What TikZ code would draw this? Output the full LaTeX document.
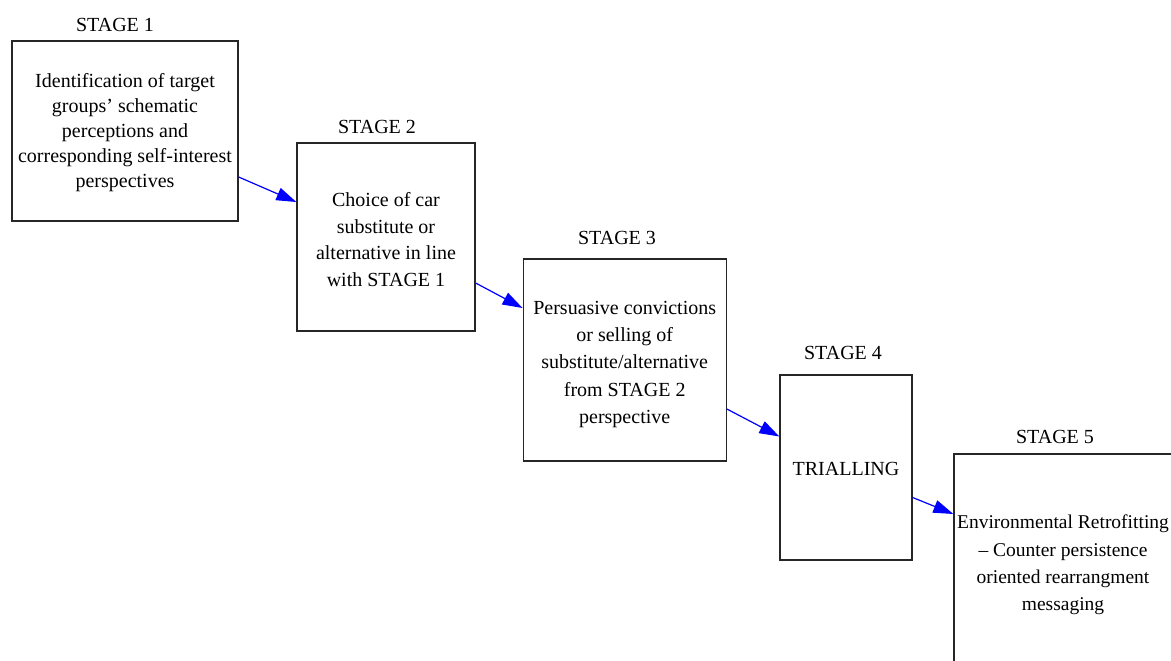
\documentclass[tikz,border=0pt]{standalone}
\usepackage{fontspec}
\setmainfont{Liberation Serif}
\usetikzlibrary{arrows.meta}
\begin{document}
\begin{tikzpicture}[x=1pt,y=-1pt,
  stagebox/.style={draw=black!85, line width=1.3pt, inner sep=0pt},
  stagetext/.style={inner sep=0pt, align=center},
  stagelabel/.style={inner sep=0pt, font=\fontsize{20}{25}\selectfont},
  flow/.style={draw=blue, line width=1.2pt,
    -{Triangle[length=20pt,width=13pt]}, fill=blue}]
\useasboundingbox (0,0) rectangle (1171,661);
\clip (0,0) rectangle (1171,661);

% stage boxes
\node[stagebox, minimum width=226pt, minimum height=180pt] (b1) at (125,131) {};
\node[stagebox, minimum width=178pt, minimum height=188pt] (b2) at (386,237) {};
\node[stagebox, minimum width=203pt, minimum height=202pt] (b3) at (624.7,360) {};
\node[stagebox, minimum width=132pt, minimum height=185pt] (b4) at (846,467.5) {};
\node[stagebox, minimum width=222pt, minimum height=226pt] (b5) at (1065,567) {};

% box contents
\node[stagetext, font=\fontsize{20}{25}\selectfont] (x1) at ([yshift=-2pt]b1.center)
  {Identification of target\\groups’ schematic\\perceptions and\\corresponding self-interest\\perspectives};
\node[stagetext, font=\fontsize{20}{26.7}\selectfont] (x2) at ([yshift=-2.5pt]b2.center)
  {Choice of car\\substitute or\\alternative in line\\with STAGE 1};
\node[stagetext, font=\fontsize{20}{27.2}\selectfont] (x3) at ([yshift=-4.5pt]b3.center)
  {Persuasive convictions\\or selling of\\substitute/alternative\\from STAGE 2\\perspective};
\node[stagetext, font=\fontsize{20}{25}\selectfont] (x4) at ([yshift=-1pt]b4.center)
  {TRIALLING};
\node[stagetext, font=\fontsize{19.5}{27.2}\selectfont] (x5) at ([xshift=-2pt,yshift=2pt]b5.center)
  {Environmental Retrofitting\\– Counter persistence\\oriented rearrangment\\messaging};

% stage titles
\node[stagelabel] (t1) at (115,25) {STAGE 1};
\node[stagelabel] (t2) at (377,127) {STAGE 2};
\node[stagelabel] (t3) at (617,238) {STAGE 3};
\node[stagelabel] (t4) at (843,353) {STAGE 4};
\node[stagelabel] (t5) at (1055,437) {STAGE 5};

% connectors
\draw[flow] ([yshift=-46pt]b1.east) -- ([yshift=35pt]b2.west);
\draw[flow] ([yshift=-46pt]b2.east) -- ([yshift=52pt]b3.west);
\draw[flow] ([yshift=-49pt]b3.east) -- ([yshift=31pt]b4.west);
\draw[flow] ([yshift=-30pt]b4.east) -- ([yshift=53pt]b5.west);
\end{tikzpicture}
\end{document}
